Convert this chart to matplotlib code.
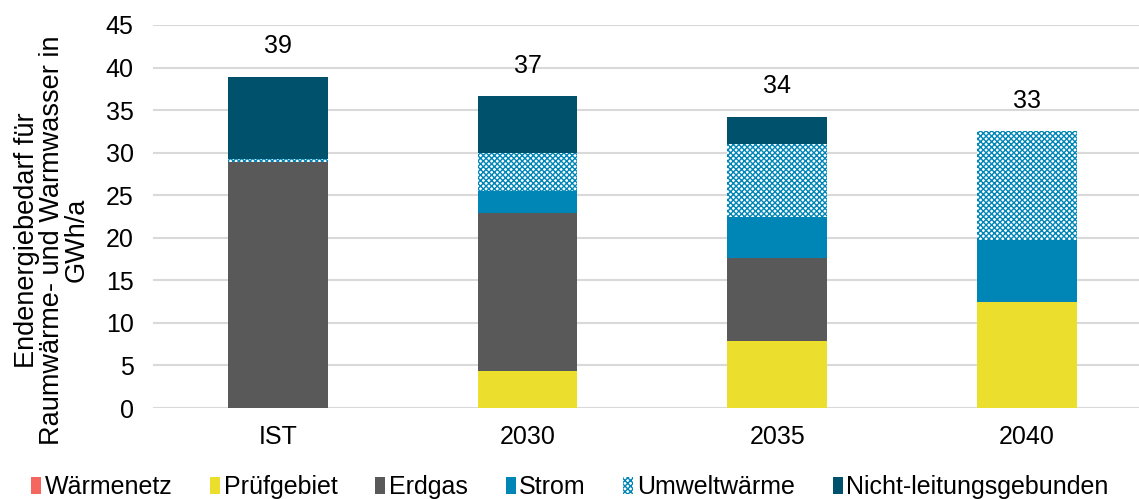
import matplotlib
matplotlib.use("Agg")
import matplotlib.pyplot as plt
import numpy as np

plt.rcParams['font.family'] = ['Liberation Sans', 'DejaVu Sans']
plt.rcParams['hatch.linewidth'] = 1.0

categories = ["IST", "2030", "2035", "2040"]
waermenetz = [0.0, 0.0, 0.0, 0.0]
pruefgebiet = [0.0, 4.4, 7.9, 12.4]
erdgas = [28.9, 18.5, 9.7, 0.0]
strom = [0.0, 2.6, 4.9, 7.3]
umweltwaerme = [0.4, 4.5, 8.5, 12.8]
nicht_leitung = [9.6, 6.6, 3.2, 0.0]
total_labels = ["39", "37", "34", "33"]

series = [
    ("Wärmenetz", waermenetz, dict(color="#F4665E")),
    ("Prüfgebiet", pruefgebiet, dict(color="#ECDE2C")),
    ("Erdgas", erdgas, dict(color="#595959")),
    ("Strom", strom, dict(color="#0086B6")),
    ("Umweltwärme", umweltwaerme, dict(facecolor="#FFFFFF", edgecolor="#0086B6", hatch="xxxxxx", linewidth=0)),
    ("Nicht-leitungsgebunden", nicht_leitung, dict(color="#00516C")),
]

W, H = 1139, 499
fig = plt.figure(figsize=(W / 100, H / 100), dpi=100)
ax = fig.add_axes([153 / W, (H - 408) / H, (W - 153) / W, (408 - 25) / H])

x = np.arange(len(categories))
bottom = np.zeros(len(categories))
for name, vals, style in series:
    vals = np.array(vals, dtype=float)
    ax.bar(x, vals, width=0.4, bottom=bottom, label=name, zorder=3, **style)
    bottom += vals

for xi, tot, lab in zip(x, bottom, total_labels):
    ax.annotate(lab, (xi, tot), xytext=(0, 22), textcoords="offset points",
                ha="center", va="center", fontsize=18, color="#000000")

ax.set_ylim(0, 45)
ax.set_xlim(-0.5, -0.5 + (W - 153) / 249.7)
ax.set_yticks(np.arange(0, 46, 5))
ax.set_xticks(x)
ax.set_xticklabels(categories)
ax.yaxis.grid(True, color="#D9D9D9", linewidth=1.5, zorder=0)
ax.set_axisbelow(True)
for s in ax.spines.values():
    s.set_visible(False)
ax.tick_params(axis="both", length=0, labelsize=18, colors="#000000")
ax.tick_params(axis="y", pad=14)
ax.tick_params(axis="x", pad=12)

fig.text(52 / W, (H - 240) / H, "Endenergiebedarf für\nRaumwärme- und Warmwasser in\nGWh/a",
         rotation=90, ha="center", va="center", fontsize=19.5, linespacing=0.95,
         multialignment="center")

ax.legend(loc="center", bbox_to_anchor=(570 / W, (H - 487) / H), bbox_transform=fig.transFigure,
          ncol=6, frameon=False, fontsize=18, handlelength=0.4, handleheight=0.7,
          handletextpad=0.15, columnspacing=1.5, borderaxespad=0)

fig.savefig("out.png", dpi=100)
